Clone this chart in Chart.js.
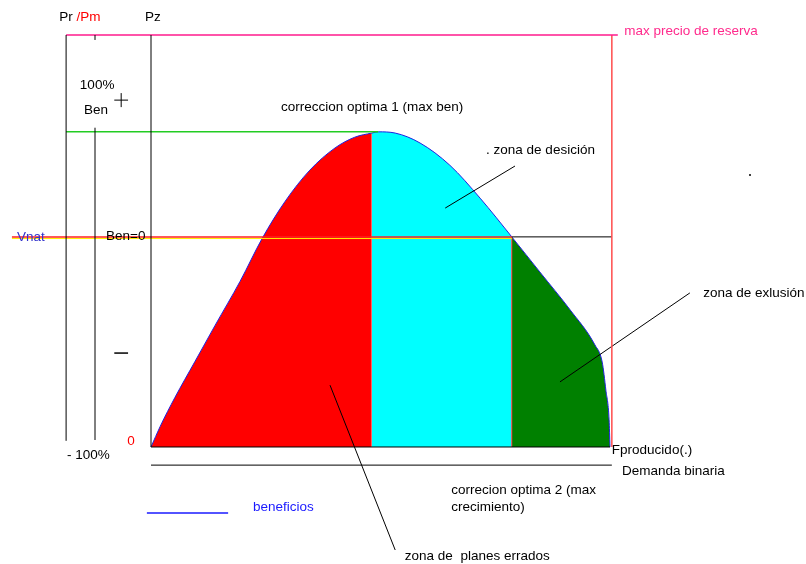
<!DOCTYPE html>
<html>
<head>
<meta charset="utf-8">
<script src="https://cdn.jsdelivr.net/npm/chart.js@4/dist/chart.umd.min.js"></script>
<style>
  body { margin: 0; background: #fff; }
  canvas { display: block; }
</style>
</head>
<body>
<canvas id="chart" width="806" height="564"></canvas>
<script>
// curve of beneficios (x = produccion 0..100, y = precio 0..100)
const produccion = [0, 2, 5.2, 9.6, 13.9, 19.4, 24.2, 29.2, 34.6, 40.1, 44.4, 48.1, 49.5, 53.2, 58.6, 65.1, 71.7, 78.6, 84.7, 91.3, 96.7, 98.3, 99.1, 99.8, 100];
const beneficio = [0, 5.0, 12.0, 20.8, 29.4, 40.2, 50.6, 59.6, 67.2, 72.6, 75.2, 76.2, 76.5, 76.2, 73.8, 68.4, 60.4, 51, 42.5, 33.3, 24.8, 20.6, 13.8, 6.6, 0];

// zone limits on the x axis
const limiteErrados = 48.1;   // correccion optima 1
const limiteDesicion = 78.6;  // Ben=0 crossing
const fProducido = 100;

// levels on the y axis
const maxReserva = 100;
const benMax = 76.5;
const benCero = 51;
const demandaBinaria = -4.4;

function puntos(desde, hasta) {
  const out = [];
  for (let i = 0; i < produccion.length; i++) {
    if (produccion[i] >= desde && produccion[i] <= hasta) out.push({x: produccion[i], y: beneficio[i]});
  }
  return out;
}

function zona(desde, hasta, color) {
  return {
    data: puntos(desde, hasta),
    backgroundColor: color,
    borderColor: color,
    borderWidth: 0,
    fill: 'origin',
    pointRadius: 0,
    cubicInterpolationMode: 'monotone',
    order: 10
  };
}

function linea(x1, y1, x2, y2, color, width) {
  return {
    data: [{x: x1, y: y1}, {x: x2, y: y2}],
    borderColor: color,
    borderWidth: width || 1,
    pointRadius: 0,
    fill: false,
    order: 1
  };
}

const textos = [
  {t: 'Pz', x: -1.3, y: 104.4, c: '#000'},
  {t: 'max precio de reserva', x: 103.1, y: 101.0, c: '#ff2a8c'},
  {t: '100%', x: -15.5, y: 87.9, c: '#000'},
  {t: 'Ben', x: -14.6, y: 81.8, c: '#000'},
  {t: 'Vnat', x: -29.2, y: 51.0, c: '#3333cc'},
  {t: 'Ben=0', x: -9.8, y: 51.2, c: '#000'},
  {t: 'correccion optima 1 (max ben)', x: 28.3, y: 82.5, c: '#000'},
  {t: '. zona de desición', x: 73.0, y: 72.1, c: '#000'},
  {t: 'zona de exlusión', x: 120.3, y: 37.4, c: '#000'},
  {t: '0', x: -5.2, y: 1.5, c: '#ff0000'},
  {t: '- 100%', x: -18.3, y: -1.9, c: '#000'},
  {t: 'Fproducido(.)', x: 100.4, y: -0.7, c: '#000'},
  {t: 'Demanda binaria', x: 102.6, y: -5.8, c: '#000'},
  {t: 'correcion optima 2 (max', x: 65.4, y: -10.4, c: '#000'},
  {t: 'crecimiento)', x: 65.4, y: -14.6, c: '#000'},
  {t: 'beneficios', x: 22.2, y: -14.6, c: '#1a1aff'},
  {t: 'zona de  planes errados', x: 55.3, y: -26.5, c: '#000'}
];

const textPlugin = {
  id: 'textos',
  afterDraw(chart) {
    const ctx = chart.ctx;
    const sx = chart.scales.x, sy = chart.scales.y;
    ctx.save();
    ctx.font = '13.5px "Liberation Sans", Arial, sans-serif';
    ctx.textBaseline = 'middle';
    ctx.textAlign = 'left';
    textos.forEach(function (l) {
      ctx.fillStyle = l.c;
      ctx.fillText(l.t, sx.getPixelForValue(l.x), sy.getPixelForValue(l.y));
    });
    // Pr /Pm
    const px = sx.getPixelForValue(-20), py = sy.getPixelForValue(104.4);
    ctx.fillStyle = '#000';
    ctx.fillText('Pr ', px, py);
    ctx.fillStyle = '#ff0000';
    ctx.fillText('/Pm', px + ctx.measureText('Pr ').width, py);
    ctx.restore();
  }
};

const datasets = [
  // curve edge
  {
    data: puntos(0, fProducido),
    borderColor: '#2020e0',
    borderWidth: 1,
    pointRadius: 0,
    fill: false,
    cubicInterpolationMode: 'monotone',
    order: 2
  },
  zona(0, limiteErrados, '#ff0000'),
  zona(limiteErrados, limiteDesicion, '#00ffff'),
  zona(limiteDesicion, fProducido, '#008000'),
  // axes
  linea(0, 0, 0, maxReserva, '#000'),
  linea(0, 0, fProducido, 0, '#000'),
  linea(-18.5, 1.5, -18.5, maxReserva, '#000'),
  linea(-12.2, 1.7, -12.2, 77.5, '#000'),
  linea(-12.2, 98.8, -12.2, 100, '#000'),
  linea(0, demandaBinaria, 100.4, demandaBinaria, '#000'),
  // levels
  linea(-18.5, maxReserva, 101.7, maxReserva, '#ff1a8c', 1.5),
  linea(100.4, 0, 100.4, maxReserva, '#ff4d4d', 1.5),
  linea(-18.5, benMax, 49.5, benMax, '#22cc22', 1.5),
  linea(-30.3, benCero - 0.4, limiteDesicion, benCero - 0.4, '#ffee00', 1),
  linea(-30.3, benCero, limiteDesicion, benCero, '#ff2020', 1.5),
  linea(limiteDesicion, benCero, 100.4, benCero, '#000'),
  linea(limiteDesicion, 0, limiteDesicion, benCero, '#ff3030'),
  // plus / minus marks
  linea(-8.0, 84.2, -5.0, 84.2, '#000'),
  linea(-6.5, 82.5, -6.5, 85.9, '#000'),
  linea(-8.0, 22.8, -5.0, 22.8, '#000', 1.5),
  // pointers
  linea(64.1, 58.0, 79.3, 68.2, '#000'),
  linea(89.1, 15.8, 117.4, 37.4, '#000'),
  linea(39.0, 15.0, 53.2, -25.0, '#000'),
  // legend line
  linea(-0.9, -16.0, 16.8, -16.0, '#1a1aff', 1.5),
  {data: [{x: 130.5, y: 66.0}], pointRadius: 1, backgroundColor: '#000', borderWidth: 0, showLine: false, order: 1}
];

new Chart(document.getElementById('chart').getContext('2d'), {
  type: 'line',
  data: { datasets: datasets },
  options: {
    responsive: false,
    animation: false,
    layout: { padding: 0, autoPadding: false },
    plugins: { legend: { display: false }, tooltip: { enabled: false } },
    scales: {
      x: { type: 'linear', display: false, min: -32.9, max: 142.7 },
      y: { type: 'linear', display: false, min: -28.4, max: 108.5 }
    }
  },
  plugins: [textPlugin]
});
</script>
</body>
</html>
